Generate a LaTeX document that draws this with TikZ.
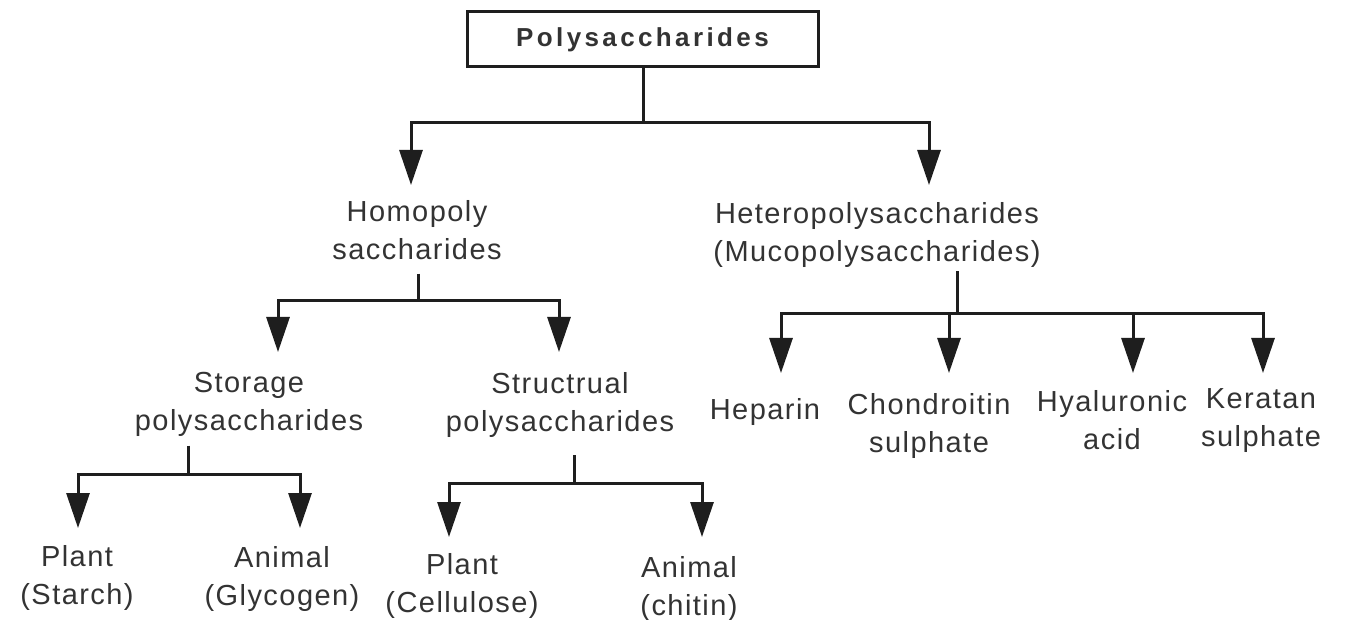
\documentclass[tikz,border=0pt]{standalone}
\usepackage{fontspec}
\setmainfont{Liberation Sans}
\usetikzlibrary{arrows.meta}
\definecolor{txt}{HTML}{333333}
\definecolor{ln}{HTML}{1E1E1E}
\tikzset{
  lbl/.style={inner sep=0pt, anchor=north, align=center, text=txt,
    font=\fontsize{29}{38}\selectfont\addfontfeature{LetterSpace=5}},
  rootbox/.style={draw=ln, line width=3pt, minimum width=351pt, minimum height=55pt,
    inner sep=0pt, text=txt,
    font=\fontsize{26}{30}\selectfont\bfseries\addfontfeature{LetterSpace=13}},
  conn/.style={draw=ln, line width=3pt},
  arr/.style={conn, -{Triangle[width=23pt,length=35pt]}}
}
\begin{document}
\begin{tikzpicture}[x=1pt,y=-1pt]
\useasboundingbox[fill=white] (0,0) rectangle (1350,620);

\node[rootbox] (root) at (642.5,39.5) {Polysaccharides};

\node[lbl] (homo) at (417,200) {Homopoly\\saccharides};
\node[lbl] (hetero) at (877,202) {Heteropolysaccharides\\(Mucopolysaccharides)};

\node[lbl] (storage) at (249,372) {Storage\\polysaccharides};
\node[lbl] (struct) at (560,372) {Structrual\\polysaccharides};

\node[lbl] (heparin) at (765,398) {Heparin};
\node[lbl] (chond) at (929,393) {Chondroitin\\sulphate};
\node[lbl] (hyal) at (1112,390) {Hyaluronic\\acid};
\node[lbl] (kera) at (1261,388) {Keratan\\sulphate};

\node[lbl] (starch) at (77,545) {Plant\\(Starch)};
\node[lbl] (glyco) at (282,546) {Animal\\(Glycogen)};
\node[lbl] (cellu) at (462,553) {Plant\\(Cellulose)};
\node[lbl] (chitin) at (689,556) {Animal\\(chitin)};

\coordinate (j1) at (643,123);
\coordinate (j2) at (418,301);
\coordinate (j3) at (957,314);
\coordinate (j4) at (188,474);
\coordinate (j5) at (574,483);

% level 1
\draw[conn] (root.south -| j1) -- (j1);
\draw[arr] (j1) -| ([xshift=-6pt,yshift=15pt]homo.north);
\draw[arr] (j1) -| ([xshift=52pt,yshift=17pt]hetero.north);

% homopolysaccharides
\draw[conn, shorten <=14pt] (homo.south -| j2) -- (j2);
\draw[arr] (j2) -| ([xshift=29pt,yshift=20pt]storage.north);
\draw[arr] (j2) -| ([xshift=-1pt,yshift=20pt]struct.north);

% heteropolysaccharides
\draw[conn, shorten <=4pt] (hetero.south -| j3) -- (j3);
\draw[arr] (j3) -| ([xshift=16pt,yshift=25pt]heparin.north);
\draw[arr] (j3) -| ([xshift=20pt,yshift=20pt]chond.north);
\draw[arr] (j3) -| ([xshift=21pt,yshift=17pt]hyal.north);
\draw[arr] (j3) -| ([xshift=2pt,yshift=15pt]kera.north);

% storage
\draw[conn, shorten <=9pt] (storage.south -| j4) -- (j4);
\draw[arr] (j4) -| ([xshift=1pt,yshift=17pt]starch.north);
\draw[arr] (j4) -| ([xshift=18pt,yshift=18pt]glyco.north);

% structural
\draw[conn, shorten <=18pt] (struct.south -| j5) -- (j5);
\draw[arr] (j5) -| ([xshift=-13pt,yshift=16pt]cellu.north);
\draw[arr] (j5) -| ([xshift=13pt,yshift=19pt]chitin.north);
\end{tikzpicture}
\end{document}
